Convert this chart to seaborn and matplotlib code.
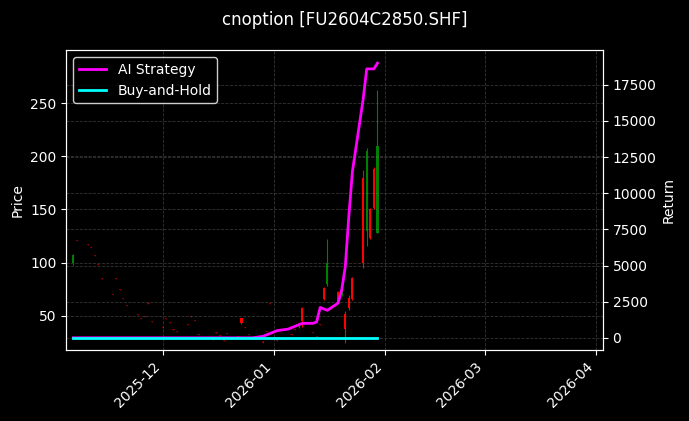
import matplotlib
matplotlib.use("Agg")
import matplotlib.pyplot as plt
import matplotlib.dates as mdates
import seaborn as sns
import pandas as pd
import numpy as np

dates = pd.bdate_range("2025-11-06", "2026-01-30")
opens = [100,121,118,115,107,99,86,71,86,75,67,60,52,48,50,62,45,40,
         48,44,38,36,42,50,46,33,30,28,35,32,27,34,31,48,40,33,29,26,36,62,30,
         27,30,33,38,40,57,35,31,42,76,80,72,70,52,67,86,180,130,150,188,128]
closes = [107,120,117,114,106,98,85,70,85,74,66,59,51,47,49,61,44,39,
          47,43,37,35,41,49,45,32,29,27,34,31,26,33,30,43,39,32,28,25,35,61,29,
          26,29,32,37,41,45,34,30,41,66,100,63,75,38,57,66,100,205,123,151,210]
highs = [108,121,118,115,107,99,86,71,86,75,67,60,52,48,50,62,45,40,
         48,44,38,36,42,50,46,33,30,28,35,32,27,34,31,48,40,33,29,26,36,62,30,
         27,30,33,38,42,58,35,31,42,77,122,73,76,55,70,87,187,208,151,190,262]
lows = [98,120,117,114,106,98,85,70,85,74,66,59,51,47,49,61,44,39,
        47,43,37,35,41,49,45,32,29,27,34,31,26,33,30,42,39,32,28,25,35,61,29,
        26,29,32,37,39,40,34,30,41,65,78,62,69,25,56,65,95,116,122,150,128]
ai_ret = [0]*37 + [100,200,300,400,500,600,700,800,900,1000,1000,1100,2100,2000,
                   1900,2400,3300,4900,8400,11500,16500,18600,18600,18600,19000]
bh_ret = [0]*len(dates)

plt.rcParams.update({"figure.facecolor":"black","axes.facecolor":"black",
                     "text.color":"white","axes.labelcolor":"white",
                     "xtick.color":"white","ytick.color":"white","axes.edgecolor":"white"})
fig, ax = plt.subplots(figsize=(6.89,4.21), dpi=100)
ax2 = ax.twinx()
df = pd.DataFrame({"date":dates,"o":opens,"c":closes,"h":highs,"l":lows})
df["big"] = (df.h - df.l) > 2
up = df.c >= df.o
for mask, col in [(up, "green"), (~up, "red")]:
    for big, alpha in [(True, 1.0), (False, 0.45)]:
        d = df[mask & (df.big == big)]
        ax.vlines(d.date, d.l, d.h, color=col, linewidth=0.8, alpha=alpha)
        ax.bar(d.date, (d.c - d.o).abs().clip(lower=0.5), bottom=np.minimum(d.o, d.c),
               width=0.6, color=col, alpha=alpha)
ax.set_ylabel("Price")
ax.set_ylim(18.1, 299.7)
ax.set_xlim(pd.Timestamp("2025-11-04"), pd.Timestamp("2026-04-03"))
ax.grid(True, linestyle="--", color="gray", alpha=0.4, linewidth=0.6)

rd = pd.DataFrame({"date":list(dates)*2, "ret":ai_ret+bh_ret,
                   "s":["AI Strategy"]*len(dates)+["Buy-and-Hold"]*len(dates)})
sns.lineplot(data=rd, x="date", y="ret", hue="s", palette=["magenta","cyan"],
             linewidth=2, ax=ax2)
ax2.set_ylabel("Return")
ax2.set_ylim(-833, 19900)
ax2.grid(True, linestyle="--", color="gray", alpha=0.4, linewidth=0.6)
ax2.set_xlabel("")
leg = ax2.legend(loc="upper left", facecolor="black", edgecolor="white", labelcolor="white")
ax.set_xlabel("")
ax.xaxis.set_major_locator(mdates.MonthLocator())
ax.xaxis.set_major_formatter(mdates.DateFormatter("%Y-%m"))
plt.setp(ax.get_xticklabels(), rotation=45, ha="right")
fig.suptitle("cnoption [FU2604C2850.SHF]", color="white", y=0.975)
fig.subplots_adjust(left=0.096, right=0.875, top=0.881, bottom=0.169)
fig.savefig("out.png", dpi=100)
